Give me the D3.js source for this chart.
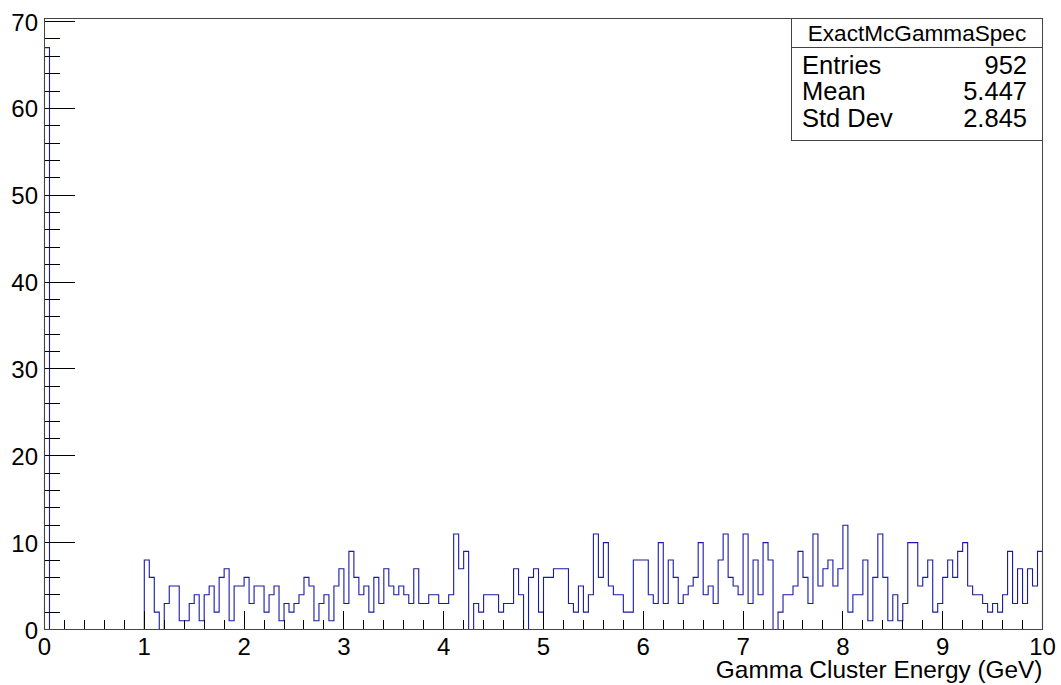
<!DOCTYPE html>
<html>
<head>
<meta charset="utf-8">
<script src="https://cdn.jsdelivr.net/npm/d3@7"></script>
<style>
  html, body { margin: 0; padding: 0; background: #fff; }
  svg { display: block; font-family: "Liberation Sans", Arial, Helvetica, sans-serif; }
</style>
</head>
<body>
<svg id="chart" width="1061" height="685"></svg>
<script>
// ---- data ----
const histName = "ExactMcGammaSpec";
const xTitle = "Gamma Cluster Energy (GeV)";
const xRange = [0, 10];
const yMax = 70.35;
const counts = [
  67,
  0,0,0,0,0,0,0,0,0,0,0,0,0,0,0,0,0,0,0,
  8,6,2,0,3,5,5,1,1,3,4,1,4,5,2,6,7,1,5,5,6,3,5,5,2,4,5,1,3,2,
  3,4,6,5,1,3,4,1,5,7,3,9,6,4,5,2,6,3,7,5,4,5,4,3,7,
  3,3,4,4,3,3,4,11,7,9,0,3,2,4,4,4,2,3,3,7,4,0,6,7,2,
  6,6,7,7,7,3,2,5,2,4,11,6,10,5,4,4,2,2,8,8,8,4,3,10,3,
  8,6,3,4,5,6,10,4,5,3,8,11,6,5,4,11,3,8,4,10,8,0,2,4,4,
  5,9,6,3,11,5,7,8,5,7,12,2,4,4,8,1,6,11,6,1,4,1,3,10,10,
  5,6,8,2,3,6,8,6,9,10,5,4,4,3,2,3,2,4,9,3,7,3,7,5,9
];
const xTickLabels = [0,1,2,3,4,5,6,7,8,9,10];
const yTickLabels = [0,10,20,30,40,50,60,70];
const statLabels = ["Entries", "Mean", "Std Dev"];
const statValues = ["952", "5.447", "2.845"];

// ---- layout ----
const L = 44.5, R = 1042.5, T = 18.5, B = 629.5;
const svg = d3.select("#chart");
const x = d3.scaleLinear().domain(xRange).range([L, R]);
const y = d3.scaleLinear().domain([0, yMax]).range([B, T]);

const nBins = counts.length;
const bw = (xRange[1] - xRange[0]) / nBins;

// histogram step outline
const pts = [[xRange[0], 0]];
counts.forEach((c, i) => {
  pts.push([xRange[0] + i * bw, c]);
  pts.push([xRange[0] + (i + 1) * bw, c]);
});
pts.push([xRange[1], 0]);
const line = d3.line().x(d => x(d[0])).y(d => y(d[1]));
svg.append("path")
  .attr("d", line(pts))
  .attr("fill", "none")
  .attr("stroke", "#1a1aa8")
  .attr("stroke-width", 1.1);

// ticks
const tickG = svg.append("g").attr("stroke", "#000").attr("stroke-width", 1).attr("shape-rendering", "crispEdges");
// x minor every 0.2, major every 1
d3.range(1, 50).forEach(k => {
  const v = k * 0.2;
  const major = k % 5 === 0;
  const px = Math.floor(x(v)) + 0.5;
  tickG.append("line").attr("x1", px).attr("x2", px)
    .attr("y1", B).attr("y2", B - (major ? 19 : 9.5));
});
// y minor every 2, major every 10
d3.range(1, 36).forEach(k => {
  const v = k * 2;
  const major = v % 10 === 0;
  const py = Math.floor(y(v)) + 0.5;
  tickG.append("line").attr("y1", py).attr("y2", py)
    .attr("x1", L).attr("x2", L + (major ? 30 : 15));
});

// frame
svg.append("rect")
  .attr("x", L).attr("y", T).attr("width", R - L).attr("height", B - T)
  .attr("fill", "none").attr("stroke", "#444").attr("stroke-width", 1)
  .attr("shape-rendering", "crispEdges");

// tick labels
svg.append("g").selectAll("text").data(xTickLabels).join("text")
  .attr("x", d => x(d)).attr("y", 655)
  .attr("text-anchor", "middle").attr("font-size", 24).attr("fill", "#000")
  .text(d => d);
svg.append("g").selectAll("text").data(yTickLabels).join("text")
  .attr("x", 38).attr("y", d => y(d) + 9)
  .attr("text-anchor", "end").attr("font-size", 24).attr("fill", "#000")
  .text(d => d);

// axis title
svg.append("text").attr("x", R).attr("y", 677.5)
  .attr("text-anchor", "end").attr("font-size", 24.4).attr("fill", "#000")
  .text(xTitle);

// stats box
const sb = { x0: 791.5, x1: R, y0: T, ySep: 47.5, y1: 140.5 };
svg.append("rect").attr("x", sb.x0).attr("y", sb.y0)
  .attr("width", sb.x1 - sb.x0).attr("height", sb.y1 - sb.y0)
  .attr("fill", "#fff").attr("stroke", "#444").attr("shape-rendering", "crispEdges");
svg.append("line").attr("x1", sb.x0).attr("x2", sb.x1).attr("y1", sb.ySep).attr("y2", sb.ySep)
  .attr("stroke", "#444").attr("shape-rendering", "crispEdges");
svg.append("text").attr("x", (sb.x0 + sb.x1) / 2).attr("y", 41)
  .attr("text-anchor", "middle").attr("font-size", 22.6).attr("fill", "#000")
  .text(histName);
const rowY = [73.5, 100, 127];
svg.append("g").selectAll("text").data(statLabels).join("text")
  .attr("x", 802).attr("y", (d, i) => rowY[i])
  .attr("font-size", 25.5).attr("fill", "#000").text(d => d);
svg.append("g").selectAll("text").data(statValues).join("text")
  .attr("x", 1027).attr("y", (d, i) => rowY[i]).attr("text-anchor", "end")
  .attr("font-size", 25.5).attr("fill", "#000").text(d => d);
</script>
</body>
</html>
